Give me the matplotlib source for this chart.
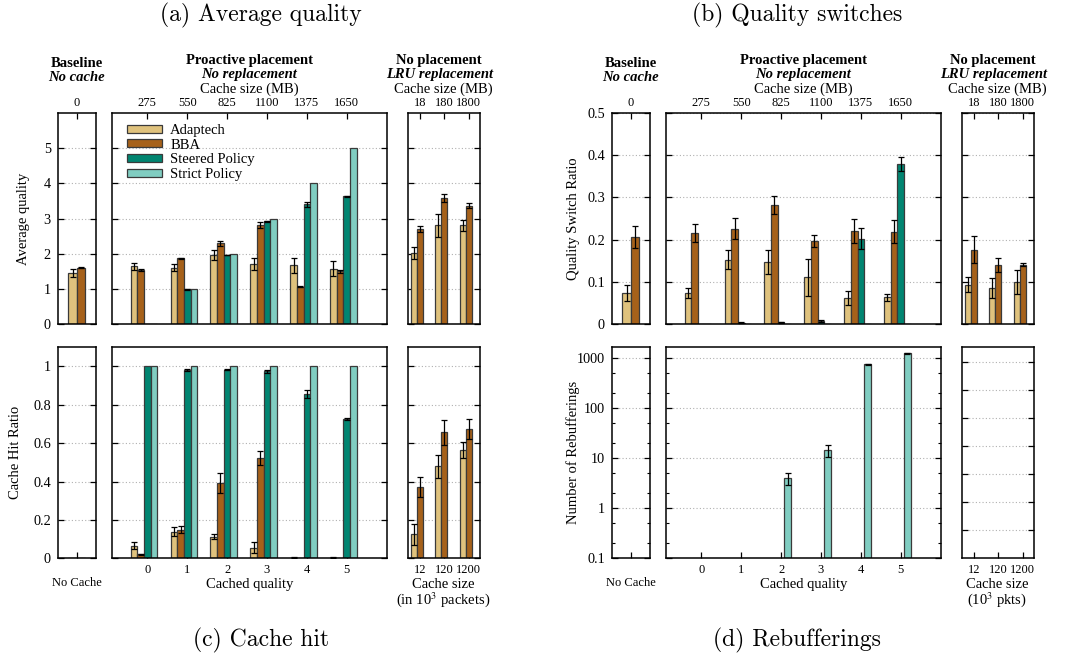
import matplotlib
matplotlib.use('Agg')
import matplotlib.pyplot as plt
import numpy as np
from matplotlib.ticker import FixedLocator, NullFormatter, NullLocator

plt.rcParams['font.family'] = ['Liberation Serif', 'DejaVu Serif']
plt.rcParams['mathtext.fontset'] = 'stix'

# ---------------- data ----------------
series = ['Adaptech', 'BBA', 'Steered Policy', 'Strict Policy']
colors = ['#dfc27d', '#a6611a', '#018571', '#80cdc1']

quality_ticks = ['0', '1', '2', '3', '4', '5']
proactive_mb = ['275', '550', '825', '1100', '1375', '1650']
lru_mb = ['18', '180', '1800']
lru_pkts = ['12', '120', '1200']
baseline_mb = ['0']

# (a) average quality
avgq_base = [1.44, 1.60]
avgq_base_err = [0.11, 0.02]
avgq_adaptech = [1.64, 1.60, 1.96, 1.70, 1.67, 1.57]
avgq_adaptech_err = [0.10, 0.10, 0.15, 0.18, 0.21, 0.21]
avgq_bba = [1.53, 1.86, 2.29, 2.81, 1.06, 1.49]
avgq_bba_err = [0.03, 0.02, 0.07, 0.08, 0.02, 0.04]
avgq_steered = [0.0, 0.98, 1.96, 2.92, 3.40, 3.63]
avgq_steered_err = [0.0, 0.01, 0.01, 0.02, 0.06, 0.02]
avgq_strict = [0.0, 1.0, 2.0, 3.0, 4.0, 5.0]
avgq_strict_err = [0.0, 0.0, 0.0, 0.0, 0.0, 0.0]
avgq_lru_adaptech = [2.02, 2.81, 2.81]
avgq_lru_adaptech_err = [0.17, 0.33, 0.16]
avgq_lru_bba = [2.70, 3.59, 3.36]
avgq_lru_bba_err = [0.09, 0.12, 0.07]

# (b) quality switch ratio
sw_base = [0.073, 0.205]
sw_base_err = [0.018, 0.026]
sw_adaptech = [0.073, 0.152, 0.146, 0.110, 0.061, 0.063]
sw_adaptech_err = [0.013, 0.022, 0.029, 0.044, 0.017, 0.008]
sw_bba = [0.215, 0.226, 0.282, 0.196, 0.220, 0.219]
sw_bba_err = [0.021, 0.025, 0.021, 0.014, 0.029, 0.027]
sw_steered = [0.0, 0.002, 0.003, 0.006, 0.202, 0.379]
sw_steered_err = [0.0, 0.001, 0.002, 0.003, 0.025, 0.016]
sw_strict = [0.0, 0.0, 0.0, 0.0, 0.0, 0.0]
sw_strict_err = [0.0, 0.0, 0.0, 0.0, 0.0, 0.0]
sw_lru_adaptech = [0.093, 0.085, 0.099]
sw_lru_adaptech_err = [0.018, 0.024, 0.028]
sw_lru_bba = [0.176, 0.139, 0.140]
sw_lru_bba_err = [0.032, 0.017, 0.004]

# (c) cache hit ratio
hit_base = [0.0, 0.0]
hit_base_err = [0.0, 0.0]
hit_adaptech = [0.066, 0.139, 0.113, 0.056, 0.004, 0.004]
hit_adaptech_err = [0.019, 0.022, 0.014, 0.027, 0.003, 0.003]
hit_bba = [0.021, 0.150, 0.391, 0.522, 0.0, 0.0]
hit_bba_err = [0.002, 0.016, 0.052, 0.037, 0.0, 0.0]
hit_steered = [1.0, 0.983, 0.983, 0.974, 0.856, 0.727]
hit_steered_err = [0.0, 0.004, 0.003, 0.010, 0.020, 0.005]
hit_strict = [1.0, 1.0, 1.0, 1.0, 1.0, 1.0]
hit_strict_err = [0.0, 0.0, 0.0, 0.0, 0.0, 0.0]
hit_lru_adaptech = [0.125, 0.480, 0.563]
hit_lru_adaptech_err = [0.056, 0.061, 0.042]
hit_lru_bba = [0.370, 0.656, 0.673]
hit_lru_bba_err = [0.052, 0.064, 0.052]

# (d) rebufferings
reb_adaptech = [0, 0, 0, 0, 0, 0]
reb_bba = [0, 0, 0, 0, 0, 0]
reb_steered = [0, 0, 0, 0, 0, 0]
reb_strict = [0, 0, 4.0, 14.2, 738, 1220]
reb_strict_err = [0, 0, 1.1, 3.7, 15, 20]
reb_ticks = [0.1, 1, 10, 100, 1000]
reb_ticklabels = ['0.1', '1', '10', '100', '1000']

# ---------------- layout ----------------
W, H = 1067, 666
fig = plt.figure(figsize=(W / 100, H / 100), dpi=100)

def rect(x0, x1, ytop, ybot):
    return [x0 / W, 1 - ybot / H, (x1 - x0) / W, (ybot - ytop) / H]

cols_left = [(57.7, 95.7), (111.7, 386.7), (408.3, 480.3)]
shift = 554.0
rows = [(113.3, 323.7), (347.3, 558.3)]

XTICK_FS = 9
YTICK_FS = 10.3
LAB_FS = 10.5
EDGE = '#3a3a3a'

def txt(x, y, s, **kw):
    kw.setdefault('ha', 'center')
    kw.setdefault('va', 'center')
    fig.text(x / W, 1 - y / H, s, **kw)

def style(ax, top_row):
    for sp in ax.spines.values():
        sp.set_linewidth(1.1)
        sp.set_color('black')
    ax.tick_params(axis='both', which='major', direction='in', length=4, width=0.9)
    ax.tick_params(axis='x', labelsize=XTICK_FS)
    ax.tick_params(axis='y', labelsize=YTICK_FS)
    ax.tick_params(axis='both', which='minor', direction='in', length=2.5, width=0.8)
    ax.tick_params(axis='y', which='both', left=True, right=True, pad=5)
    if top_row:
        ax.tick_params(axis='x', which='both', top=True, bottom=False,
                       labeltop=True, labelbottom=False, pad=3)
    else:
        ax.tick_params(axis='x', which='both', top=False, bottom=True,
                       labeltop=False, labelbottom=True, pad=4)
    ax.grid(axis='y', which='major', linestyle=(0, (1, 2)), color='#b0b0b0', linewidth=0.8)
    ax.set_axisbelow(True)

def bars(ax, xs, vals, errs, offsets, w, cols, labels=None, log_base=None):
    for i, (v, e) in enumerate(zip(vals, errs)):
        v = np.asarray(v, float)
        e = np.asarray(e, float)
        x = np.asarray(xs, float) + offsets[i] * w
        lab = labels[i] if labels else None
        if log_base is not None:
            m = v > 0
            if not m.any():
                continue
            ax.bar(x[m], v[m] - log_base, bottom=log_base, width=w, color=cols[i],
                   edgecolor=EDGE, linewidth=0.9, label=lab, zorder=2)
            ax.errorbar(x[m], v[m], yerr=e[m], fmt='none', ecolor='black',
                        elinewidth=0.9, capsize=2.2, capthick=0.9, zorder=3)
        else:
            ax.bar(x, v, width=w, color=cols[i], edgecolor=EDGE, linewidth=0.9,
                   label=lab, zorder=2)
            m = e > 0
            if m.any():
                ax.errorbar(x[m], v[m], yerr=e[m], fmt='none', ecolor='black',
                            elinewidth=0.9, capsize=2.2, capthick=0.9, zorder=3)

w_mid = 1 / 6
w_side = 0.25
off_mid = [-2, -1, 0, 1]
off_base = [-0.5, 0.5]
off_lru = [-1, 0]
xlim_left = (-0.57, 0.57)
xlim_mid = (-0.892, 6.0)
xlim_right = (-0.465, 2.47)

panels = [
    dict(dx=0, row=0, name='avgq'),
    dict(dx=shift, row=0, name='sw'),
    dict(dx=0, row=1, name='hit'),
    dict(dx=shift, row=1, name='reb'),
]

data = {
    'avgq': dict(base=(avgq_base, avgq_base_err),
                 mid=([avgq_adaptech, avgq_bba, avgq_steered, avgq_strict],
                      [avgq_adaptech_err, avgq_bba_err, avgq_steered_err, avgq_strict_err]),
                 right=([avgq_lru_adaptech, avgq_lru_bba], [avgq_lru_adaptech_err, avgq_lru_bba_err]),
                 ylim=(0, 6), yticks=[0, 1, 2, 3, 4, 5], ylabel='Average quality', ylabx=30.0),
    'sw': dict(base=(sw_base, sw_base_err),
               mid=([sw_adaptech, sw_bba, sw_steered, sw_strict],
                    [sw_adaptech_err, sw_bba_err, sw_steered_err, sw_strict_err]),
               right=([sw_lru_adaptech, sw_lru_bba], [sw_lru_adaptech_err, sw_lru_bba_err]),
               ylim=(0, 0.5), yticks=[0, 0.1, 0.2, 0.3, 0.4, 0.5], ylabel='Quality Switch Ratio',
               ylabx=580.0 - shift),
    'hit': dict(base=(hit_base, hit_base_err),
                mid=([hit_adaptech, hit_bba, hit_steered, hit_strict],
                     [hit_adaptech_err, hit_bba_err, hit_steered_err, hit_strict_err]),
                right=([hit_lru_adaptech, hit_lru_bba], [hit_lru_adaptech_err, hit_lru_bba_err]),
                ylim=(0, 1.1), yticks=[0, 0.2, 0.4, 0.6, 0.8, 1.0], ylabel='Cache Hit Ratio',
                ylabx=22.0),
    'reb': dict(ylabel='Number of Rebufferings', ylabx=580.0 - shift),
}

def fmt_tick(v):
    return '%g' % v

for p in panels:
    dx, row, name = p['dx'], p['row'], p['name']
    d = data[name]
    ytop, ybot = rows[row]
    top_row = row == 0
    axL = fig.add_axes(rect(cols_left[0][0] + dx, cols_left[0][1] + dx, ytop, ybot))
    axM = fig.add_axes(rect(cols_left[1][0] + dx, cols_left[1][1] + dx, ytop, ybot))
    axR = fig.add_axes(rect(cols_left[2][0] + dx, cols_left[2][1] + dx, ytop, ybot))
    for ax in (axL, axM, axR):
        style(ax, top_row)
    axL.set_xlim(*xlim_left)
    axM.set_xlim(*xlim_mid)
    axR.set_xlim(*xlim_right)

    qx = np.arange(len(quality_ticks))
    rx = np.arange(len(lru_mb))

    if name == 'reb':
        base_y = 0.1
        bars(axM, qx, [reb_adaptech, reb_bba, reb_steered, reb_strict],
             [reb_adaptech, reb_bba, reb_steered, reb_strict_err], off_mid, w_mid, colors,
             log_base=base_y)
        for ax in (axL, axM):
            ax.set_yscale('log')
            ax.set_ylim(0.1, 1600)
            ax.yaxis.set_major_locator(FixedLocator(reb_ticks))
            ax.yaxis.set_minor_locator(FixedLocator(
                [m * 10.0 ** k for k in range(-1, 4) for m in (2, 5)]))
            ax.yaxis.set_minor_formatter(NullFormatter())
        axL.set_yticks(reb_ticks, reb_ticklabels)
        axM.set_yticks(reb_ticks, [''] * len(reb_ticks))
        axR.set_yscale('log')
        axR.set_ylim(1, 10 ** 7.51)
        axR.yaxis.set_major_locator(FixedLocator([10.0 ** k for k in range(1, 8)]))
        axR.yaxis.set_minor_locator(NullLocator())
        axR.yaxis.set_major_formatter(NullFormatter())
    else:
        bv, be = d['base']
        bars(axL, [0], [[bv[0]], [bv[1]]], [[be[0]], [be[1]]], off_base, w_side, colors[:2])
        mv, me = d['mid']
        bars(axM, qx, mv, me, off_mid, w_mid, colors,
             labels=series if name == 'avgq' else None)
        rv, re_ = d['right']
        bars(axR, rx, rv, re_, off_lru, w_side, colors[:2])
        for ax in (axL, axM, axR):
            ax.set_ylim(*d['ylim'])
            ax.set_yticks(d['yticks'])
        axL.set_yticklabels([fmt_tick(v) for v in d['yticks']])
        axM.set_yticklabels([])
        axR.set_yticklabels([])
        if name == 'avgq':
            axM.legend(loc='upper left', bbox_to_anchor=(0.0545, 0.95), frameon=False,
                       fontsize=LAB_FS, handlelength=2.45, handleheight=0.45,
                       labelspacing=0.12, handletextpad=0.53, borderpad=0,
                       borderaxespad=0)

    if top_row:
        axL.set_xticks([0], baseline_mb)
        axM.set_xticks(qx, proactive_mb)
        axR.set_xticks(rx, lru_mb)
    else:
        axL.set_xticks([0], [''])
        axM.set_xticks(qx, quality_ticks)
        axR.set_xticks(rx, lru_pkts)

    x0 = cols_left[0][0]
    axL.set_ylabel(d['ylabel'], fontsize=LAB_FS)
    axL.yaxis.set_label_coords((d['ylabx'] - x0) / (cols_left[0][1] - x0), 0.5)

    cL = (cols_left[0][0] + cols_left[0][1]) / 2 + dx
    cM = (cols_left[1][0] + cols_left[1][1]) / 2 + dx
    cR = (cols_left[2][0] + cols_left[2][1]) / 2 + dx
    if top_row:
        txt(cL, 63.3, 'Baseline', fontsize=LAB_FS, fontweight='bold')
        txt(cL, 77.3, 'No cache', fontsize=LAB_FS, fontweight='bold', fontstyle='italic')
        txt(cM, 60.5, 'Proactive placement', fontsize=LAB_FS, fontweight='bold')
        txt(cM, 74.5, 'No replacement', fontsize=LAB_FS, fontweight='bold', fontstyle='italic')
        txt(cM, 89.3, 'Cache size (MB)', fontsize=LAB_FS)
        txt(cR - 5, 60.5, 'No placement', fontsize=LAB_FS, fontweight='bold')
        txt(cR - 5, 74.5, 'LRU replacement', fontsize=LAB_FS, fontweight='bold', fontstyle='italic')
        txt(cR - 1, 89.3, 'Cache size (MB)', fontsize=LAB_FS)
    else:
        txt(cL, 583.5, 'No Cache', fontsize=XTICK_FS)
        txt(cM, 584.3, 'Cached quality', fontsize=LAB_FS)
        txt(cR - 1, 584.3, 'Cache size', fontsize=LAB_FS)
        if name == 'hit':
            txt(cR - 1, 599.3, r'(in 10$^3$ packets)', fontsize=LAB_FS)
        else:
            txt(cR - 1, 599.3, r'(10$^3$ pkts)', fontsize=LAB_FS)

# panel titles
txt(261, 15, '(a) Average quality', fontsize=17, fontfamily='cmr10')
txt(797, 15, '(b) Quality switches', fontsize=17, fontfamily='cmr10')
txt(261, 640, '(c) Cache hit', fontsize=17, fontfamily='cmr10')
txt(797, 640, '(d) Rebufferings', fontsize=17, fontfamily='cmr10')

fig.savefig('out.png', dpi=100)
